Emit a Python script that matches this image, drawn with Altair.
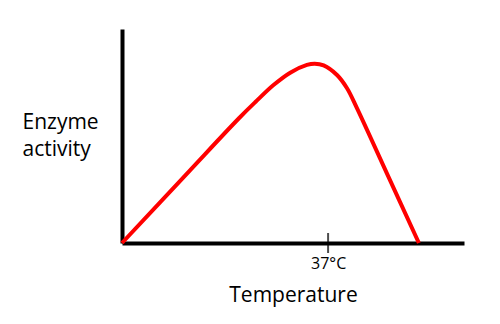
import altair as alt
import pandas as pd

temperature = [0, 12.0, 21.0, 24.0, 27.2, 30.2, 33.2, 34.6, 36.2, 38.6, 40.4, 42.2, 47.7, 53.3]
activity = [0, 33.4, 58.3, 66.0, 73.8, 79.6, 83.2, 83.8, 83.0, 78.5, 72.3, 62.9, 31.7, 0]
tick_temps = [37]
tick_labels = ["37°C"]

df = pd.DataFrame({"Temperature": temperature, "Activity": activity})
ticks = pd.DataFrame({"Temperature": tick_temps, "Activity": [0], "label": tick_labels})

FONT = "Open Sans"

x_scale = alt.Scale(domain=[0, 61.4], nice=False, zero=False)
y_scale = alt.Scale(domain=[0, 100], nice=False)

curve = alt.Chart(df).mark_line(color="#ff0000", strokeWidth=4, interpolate="catmull-rom").encode(
    x=alt.X("Temperature:Q", scale=x_scale,
            axis=alt.Axis(values=tick_temps, labelExpr="'37°C'", ticks=False, grid=False,
                          domainColor="black", domainWidth=4, labelFontSize=16,
                          labelColor="black", labelFont=FONT, labelPadding=12,
                          title="Temperature", titleFont=FONT, titleFontSize=21,
                          titleFontWeight="normal", titleColor="black", titlePadding=13)),
    y=alt.Y("Activity:Q", scale=y_scale,
            axis=alt.Axis(ticks=False, labels=False, grid=False, domainColor="black",
                          domainWidth=4, title=["Enzyme", "activity"], titleAngle=0,
                          titleFont=FONT, titleFontSize=21, titleFontWeight="normal",
                          titleColor="black", titleAlign="left", titleBaseline="alphabetic",
                          titleX=-100, titleY=99, titleLineHeight=27)),
)

tick = alt.Chart(ticks).mark_tick(color="black", thickness=2, size=20, orient="vertical").encode(
    x=alt.X("Temperature:Q", scale=x_scale),
    y=alt.Y("Activity:Q", scale=y_scale),
)

chart = alt.layer(curve, tick).properties(
    width=342, height=214,
    autosize=alt.AutoSizeParams(type="none"),
    padding={"left": 122, "top": 29, "right": 36, "bottom": 81},
    background="white",
).configure_view(strokeWidth=0, stroke="transparent")

chart.save("out.html", embed_options={"renderer": "svg", "actions": False})
